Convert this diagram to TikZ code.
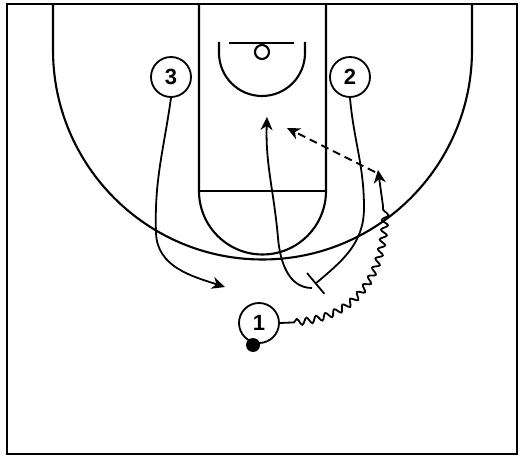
\documentclass[tikz,border=0pt]{standalone}
\usepackage{fontspec}
\setmainfont{Liberation Sans}
\usetikzlibrary{arrows.meta, decorations.pathmorphing}

\begin{document}
\begin{tikzpicture}[
    x=1pt, y=1pt,
    court/.style={line width=2.1pt},
    player/.style={draw, circle, line width=1.8pt, fill=white, minimum size=40pt, inner sep=0pt, font=\fontsize{22}{22}\selectfont\bfseries},
    ball/.style={circle, fill=black, minimum size=14pt, inner sep=0pt},
    cut/.style={-{Stealth[length=13pt, width=12pt, inset=4pt]}, line width=1.8pt},
    screen/.style={-{Bar[width=27pt, line width=1.8pt]}, line width=1.8pt},
    pass/.style={-{Stealth[length=13pt, width=12pt, inset=4pt]}, line width=1.8pt, dash pattern=on 8pt off 5pt},
    dribble/.style={line width=1.8pt, decorate, decoration={snake, amplitude=3.2pt, segment length=10pt, pre length=14pt}}
]
    \useasboundingbox (0,0) rectangle (525,458);

    % Court
    \draw[line width=2.6pt] (7,4) rectangle (517,454);
    \draw[court] (53,454) -- (53,408) arc[start angle=180, end angle=360, radius=209.5] -- (472,454);
    \draw[court] (199,454) -- (199,267) arc[start angle=180, end angle=360, radius=63.5] -- (326,454);
    \draw[court] (199,267) -- (326,267);
    \draw[court] (219,416) -- (219,405) arc[start angle=180, end angle=360, radius=43] -- (305,416);
    \draw[court] (229,415) -- (294,415);
    \draw[court] (262,406) circle[radius=7];

    % Nodes - players
    \node[player] (p3) at (171,381) {3};
    \node[player] (p2) at (350,381) {2};
    \node[player] (p1) at (259,135) {1};
    \node[ball] (ball) at (253,113) {};

    % Coordinates
    \coordinate (roll) at (312,170);
    \coordinate (drive) at (383,252);
    \coordinate (wing) at (378,288);
    \coordinate (rim) at (267,341);
    \coordinate (lane) at (287,330);

    % Arrows
    \draw[cut] (p3.south) to[out=-98, in=92] (156,225) to[out=-88, in=162] (225,171);
    \draw[screen] (p2.south) to[out=-85, in=90] (364,250) to[out=-90, in=40] (315,174);
    \draw[cut] (roll) to[out=180, in=-85] (278,220) to[out=95, in=-92] (rim);
    \draw[dribble] (p1.east) to[out=0, in=-90, looseness=1.2] (drive);
    \draw[cut] (drive) -- (wing);
    \draw[pass] (375,286) -- (lane);
\end{tikzpicture}
\end{document}
